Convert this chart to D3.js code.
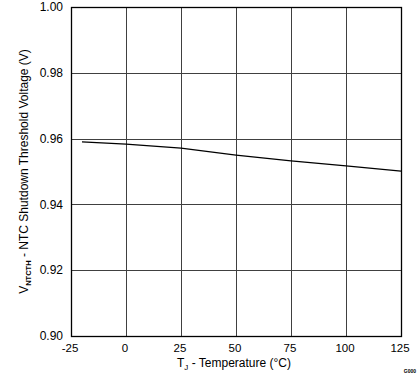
<!DOCTYPE html>
<html><head><meta charset="utf-8">
<script src="https://cdn.jsdelivr.net/npm/d3@7"></script>
<style>body{margin:0;background:#fff}svg{display:block}text{font-family:"Liberation Sans",Arial,sans-serif}</style>
</head><body>
<svg id="c" width="419" height="382"></svg>
<script>
const temps = [-20, 0, 25, 50, 75, 100, 125];
const volts = [0.9590, 0.9583, 0.9571, 0.9550, 0.9532, 0.9517, 0.9501];
const xTicks = [-25, 0, 25, 50, 75, 100, 125];
const yTicks = [0.90, 0.92, 0.94, 0.96, 0.98, 1.00];

const svg = d3.select("#c");
const L = 71, R = 401, T = 7, B = 336;
const x = d3.scaleLinear().domain([-25, 125]).range([L, R]);
const y = d3.scaleLinear().domain([0.90, 1.00]).range([B, T]);

const g = svg.append("g");
// grid
g.selectAll(".vx").data(xTicks).enter().append("line")
  .attr("x1", d => Math.round(x(d)) + 0.5).attr("x2", d => Math.round(x(d)) + 0.5)
  .attr("y1", T).attr("y2", B).attr("stroke", "#404040").attr("stroke-width", 1);
g.selectAll(".hy").data(yTicks).enter().append("line")
  .attr("y1", d => Math.round(y(d)) + 0.5).attr("y2", d => Math.round(y(d)) + 0.5)
  .attr("x1", L).attr("x2", R).attr("stroke", "#404040").attr("stroke-width", 1);
// border
g.append("rect").attr("x", L + 0.5).attr("y", T + 0.5).attr("width", R - L).attr("height", B - T)
  .attr("fill", "none").attr("stroke", "#000").attr("stroke-width", 1.3);

// line
g.append("path").datum(temps.map((t, i) => [t, volts[i]]))
  .attr("d", d3.line().x(d => x(d[0])).y(d => y(d[1])))
  .attr("fill", "none").attr("stroke", "#000").attr("stroke-width", 1.3);

// tick labels
g.selectAll(".yl").data(yTicks).enter().append("text")
  .attr("x", 63).attr("y", d => y(d)).attr("dy", "0.35em")
  .attr("text-anchor", "end").attr("font-size", 12).attr("fill", "#000")
  .text(d => d3.format(".2f")(d));
g.selectAll(".xl").data(xTicks).enter().append("text")
  .attr("x", d => x(d) - 1).attr("y", 352)
  .attr("text-anchor", "middle").attr("font-size", 11.5).attr("fill", "#000")
  .text(d => d);

// axis titles
const xt = g.append("text").attr("x", 234).attr("y", 367).attr("text-anchor", "middle")
  .attr("font-size", 12).attr("fill", "#000");
xt.append("tspan").text("T");
xt.append("tspan").attr("font-size", 8).attr("dy", 3).text("J");
xt.append("tspan").attr("dy", -3).text(" - Temperature (°C)");

const yt = g.append("text").attr("transform", "translate(28,171.5) rotate(-90)")
  .attr("text-anchor", "middle").attr("font-size", 12).attr("fill", "#000");
yt.append("tspan").text("V");
yt.append("tspan").attr("font-size", 7.5).attr("font-weight", "bold").attr("dy", 3).text("NTCTH");
yt.append("tspan").attr("dy", -3).text(" - NTC Shutdown Threshold Voltage (V)");

g.append("text").attr("x", 416).attr("y", 373).attr("text-anchor", "end")
  .attr("font-size", 5).attr("font-weight", "bold").attr("fill", "#000").text("G000");
</script>
</body></html>
